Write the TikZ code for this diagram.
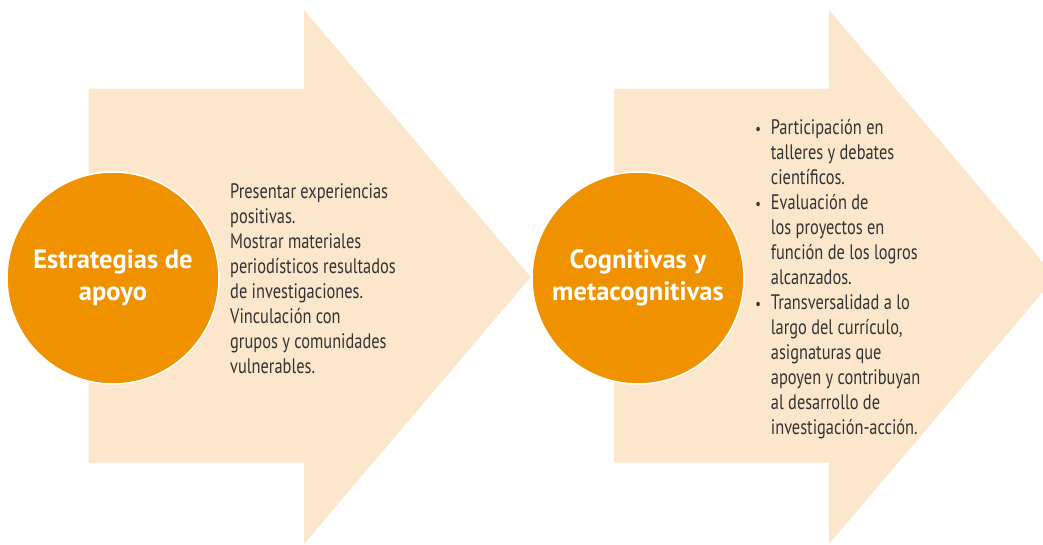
\documentclass[tikz,border=0pt]{standalone}
\usepackage{fontspec}
\setmainfont{PT Sans}
\newfontfamily\narrowfont[FakeStretch=0.78]{PT Sans}
\usetikzlibrary{positioning}
\definecolor{peach}{HTML}{FCE7CC}
\definecolor{orangedot}{HTML}{F09200}
\definecolor{darktext}{HTML}{333333}
\newcommand\itm{\llap{{\fontsize{16}{16}\selectfont\textbullet}\hspace{10pt}}}

\begin{document}
\begin{tikzpicture}
[x=1pt,y=-1pt,
every node/.style={inner sep=0pt},
arrowbg/.style={fill=peach,draw=none},
circ/.style={circle,fill=orangedot,draw=white,line width=1.5pt,minimum size=212pt,
text=white,align=center,font=\bfseries\fontsize{26.5}{32}\selectfont},
bodytext/.style={anchor=base west,align=left,text=darktext,
font=\narrowfont\fontsize{21}{25}\selectfont}]
\clip (0,0) rectangle (1043,544);
% the two big arrows
\fill[arrowbg] (88.7,88.7) -- (304,88.7) -- (304,10) -- (530.7,277) -- (304,544)
-- (304,462.7) -- (88.7,462.7) -- cycle;
\fill[arrowbg] (614,88.7) -- (829,88.7) -- (829,10) -- (1055.7,277) -- (829,544)
-- (829,462.7) -- (614,462.7) -- cycle;
\node (apoyo) [circ] at (113,278) {Estrategias de\\apoyo};
\node (cognitivas) [circ] at (638,278) {Cognitivas y\\metacognitivas};
% base = baseline of the last line
\node (apoyotext) [bodytext] at (230,373) {Presentar experiencias\\
positivas.\\
Mostrar materiales\\
periodísticos resultados\\
de investigaciones.\\
Vinculación con\\
grupos y comunidades\\
vulnerables.};
\node (cognitext) [bodytext] at (770.7,434) {\itm Participación en\\
talleres y debates\\
científicos.\\
\itm Evaluación de\\
los proyectos en\\
función de los logros\\
alcanzados.\\
\itm Transversalidad a lo\\
largo del currículo,\\
asignaturas que\\
apoyen y contribuyan\\
al desarrollo de\\
investigación-acción.};
\end{tikzpicture}
\end{document}
